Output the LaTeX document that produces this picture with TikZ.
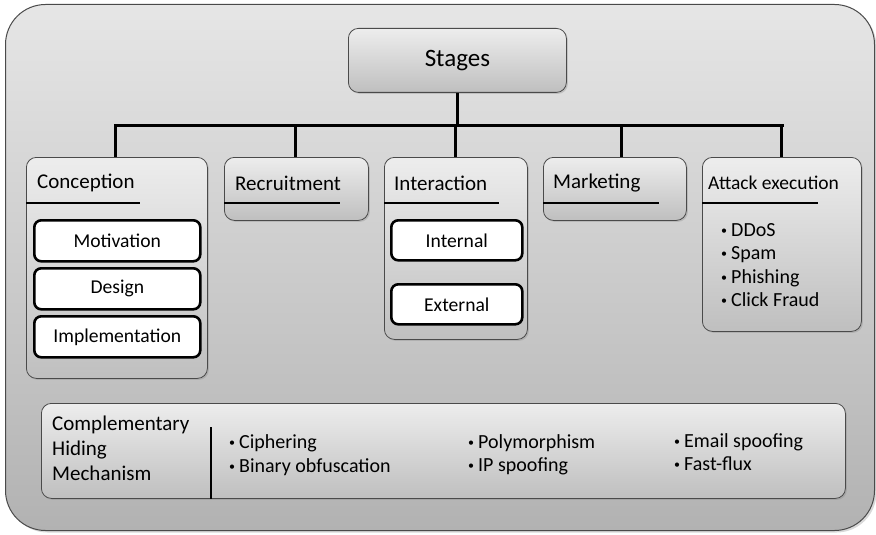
\documentclass[tikz,border=0pt]{standalone}
\usepackage{fontspec}
\setmainfont{Carlito}
\usetikzlibrary{shadows}

\definecolor{framebot}{HTML}{B2B2B2}
\definecolor{frametop}{HTML}{E6E6E6}
\definecolor{paneltop}{HTML}{EDEDED}
\definecolor{panelbot}{HTML}{BFBFBF}
\definecolor{edgegray}{HTML}{4A4A4A}

\newcommand{\bul}{\makebox[10pt][l]{\raisebox{2pt}{\scalebox{0.6}{\textbullet}}}}

\tikzset{
  frame/.style={draw=edgegray, line width=1pt, rounded corners=40pt, top color=frametop, bottom color=framebot,
    anchor=north west, inner sep=0pt, drop shadow={shadow xshift=2pt, shadow yshift=-2pt, opacity=0.3}},
  panel/.style={draw=edgegray, line width=0.8pt, rounded corners=10pt, top color=paneltop, bottom color=panelbot,
    anchor=north west, inner sep=0pt, drop shadow={shadow xshift=1.5pt, shadow yshift=-1.5pt, opacity=0.3}},
  item/.style={draw=black, line width=2.6pt, rounded corners=7pt, fill=white, anchor=north west, inner sep=0pt,
    font=\fontsize{19.6}{23}\selectfont},
  title/.style={anchor=west, inner sep=0pt, font=\fontsize{21}{25}\selectfont},
  blist/.style={anchor=west, inner sep=0pt, align=left, font=\fontsize{20}{23.5}\selectfont},
  link/.style={line width=3pt},
  uline/.style={line width=2.6pt}
}

\begin{document}
\begin{tikzpicture}[x=1pt,y=-1pt]
\useasboundingbox (0,0) rectangle (876,535);
\node[frame, minimum width=869pt, minimum height=526pt] (frame) at (5,4) {};

% top of the tree
\node[panel, minimum width=218pt, minimum height=64pt, font=\fontsize{25}{30}\selectfont] (stages) at (348,28) {Stages};

% stage panels
\node[panel, minimum width=181pt, minimum height=221pt] (concep) at (26,157) {};
\node[panel, minimum width=144pt, minimum height=63pt] (recruit) at (224,157) {};
\node[panel, minimum width=143pt, minimum height=182pt] (interact) at (384,157) {};
\node[panel, minimum width=143pt, minimum height=63pt] (market) at (543,157) {};
\node[panel, minimum width=159pt, minimum height=174pt] (attack) at (702,157) {};

% connectors
\coordinate (barleft) at (115,125);
\coordinate (barright) at (782,125);
\draw[link] (stages.south) -- (stages.south |- barleft);
\draw[link, line cap=rect] (barleft) -- (barright);
\foreach \s/\d in {concep/-1,recruit/-1,interact/0,market/7,attack/0}
\draw[link] ([xshift=\d pt]\s.north |- barleft) -- ([xshift=\d pt]\s.north);

% panel titles
\node[title] (concept) at (37,183) {Conception};
\node[title] (recruitt) at (235,183) {Recruitment};
\node[title] (interactt) at (394,183) {Interaction};
\node[title] (markett) at (553,183) {Marketing};
\node[title, font=\fontsize{19.5}{23}\selectfont] (attackt) at (708,183) {Attack execution};
\foreach \a/\b in {26/140,224/340,384/499,543/659,702/818}
\draw[uline] (\a,203) -- (\b,203);

% sub items
\foreach \t/\y/\n in {Motivation/219/motiv,Design/267/design,Implementation/315/impl}
\node[item, minimum width=166pt, minimum height=41pt] (\n) at (33,\y) {\t};
\node[item, minimum width=131pt, minimum height=40pt] (internal) at (390,219) {Internal};
\node[item, minimum width=131pt, minimum height=40pt] (external) at (390,283) {External};

\node[blist] (attacklist) at (721,265) {\bul DDoS\\\bul Spam\\\bul Phishing\\\bul Click Fraud};

% hiding mechanisms
\node[panel, minimum width=804pt, minimum height=95pt] (hiding) at (41,403) {};
\node[blist, font=\fontsize{21}{25}\selectfont] (hidingt) at (52,448) {Complementary\\Hiding\\Mechanism};
\coordinate (divtop) at (211,427);
\draw[uline] (divtop) -- (divtop |- hiding.south);
\node[blist] (hide1) at (229,455) {\bul Ciphering\\\bul Binary obfuscation};
\node[blist] (hide2) at (468,455) {\bul Polymorphism\\\bul IP spoofing};
\node[blist] (hide3) at (674,452) {\bul Email spoofing\\\bul Fast-flux};
\end{tikzpicture}
\end{document}
